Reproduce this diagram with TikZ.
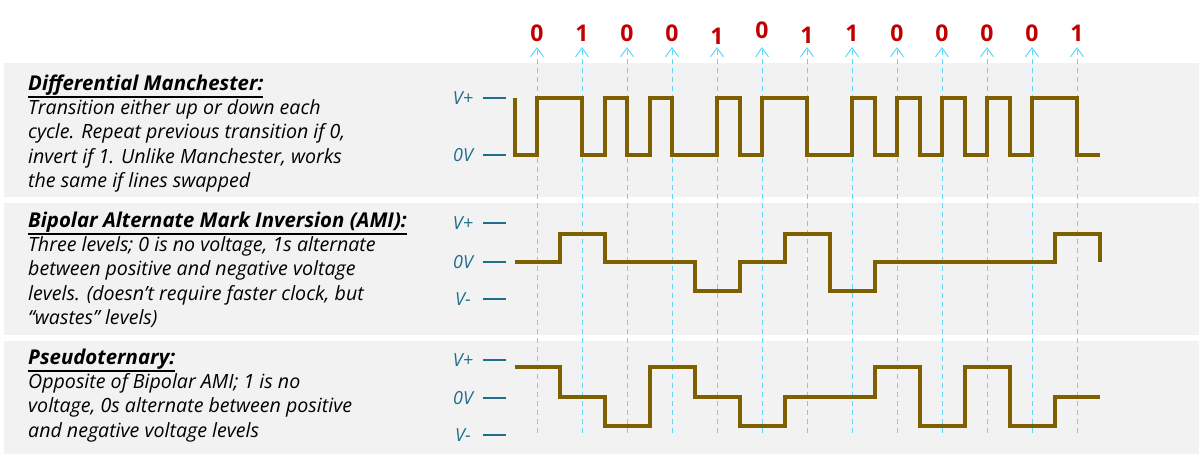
\documentclass[tikz,border=0pt]{standalone}
\usepackage{fontspec}
\setmainfont{Open Sans}
\usetikzlibrary{arrows.meta}
\definecolor{wavebrown}{RGB}{127,96,0}
\definecolor{panelgray}{RGB}{242,242,242}
\definecolor{bitred}{RGB}{192,0,0}
\definecolor{levelblue}{RGB}{31,110,140}
\definecolor{clockcyan}{RGB}{95,215,250}
\tikzstyle{panel}=[fill=panelgray,draw=none]
\tikzstyle{bit}=[text=bitred,font=\fontsize{23}{23}\selectfont\bfseries,inner sep=0pt]
\tikzstyle{clock}=[clockcyan,line width=1pt,dash pattern=on 5pt off 4pt,-{Straight Barb[length=9pt,width=13pt]}]
\tikzstyle{wave}=[wavebrown,line width=4pt,line join=miter]
\tikzstyle{level}=[text=levelblue,font=\fontsize{18}{18}\selectfont\itshape,inner sep=0pt]
\tikzstyle{levtick}=[levelblue,line width=1.2pt]
\tikzstyle{desc}=[align=left,anchor=base west,inner sep=0pt,font=\fontsize{19.6}{24.4}\selectfont\itshape]
\newcommand{\heading}[1]{\leavevmode\vtop{\hbox{\fontsize{20.4}{24.4}\selectfont\bfseries #1}\kern1.5pt\hrule height1.4pt}}

\begin{document}
\begin{tikzpicture}[x=1pt,y=-1pt]
  \useasboundingbox (0,0) rectangle (1202,459);
  \fill[panel] (4,63) rectangle (1199,197);
  \fill[panel] (4,203) rectangle (1199,335);
  \fill[panel] (4,341) rectangle (1199,454);

  % descriptions, placed by their last baseline
  \node[desc] (DM) at (28,187.6) {\heading{Differential Manchester:}\\
    Transition either up or down each\\
    cycle. Repeat previous transition if 0,\\
    invert if 1. Unlike Manchester, works\\
    the same if lines swapped};
  \node[desc] (AMI) at (28,324.6) {\heading{Bipolar Alternate Mark Inversion (AMI):}\\
    Three levels; 0 is no voltage, 1s alternate\\
    between positive and negative voltage\\
    levels. (doesn’t require faster clock, but\\
    “wastes” levels)};
  \node[desc] (PT) at (28,437.2) {\heading{Pseudoternary:}\\
    Opposite of Bipolar AMI; 1 is no\\
    voltage, 0s alternate between positive\\
    and negative voltage levels};

  % voltage levels
  \foreach \name/\text/\y in {DM-hi/V+/98, DM-lo/0V/155,
                              AMI-hi/V+/223, AMI-z/0V/262, AMI-lo/V-/299,
                              PT-hi/V+/360, PT-z/0V/398, PT-lo/V-/435}
  {
    \node[level] (L-\name) at (463,\y) {\text};
    \draw[levtick] (483,\y) -- (506,\y);
  }

  % bits and clock lines
  \foreach \i/\b/\dy in {0/0/0, 1/1/0, 2/0/0, 3/0/0, 4/1/3, 5/0/-3, 6/1/2,
                         7/1/0, 8/0/0, 9/0/0, 10/0/0, 11/0/0, 12/1/0}
  {
    \node[bit] (B-\i) at (537+45*\i,33+\dy) {\b};
    \coordinate (C-\i) at (537+45*\i,433);
    \coordinate (T-\i) at (537+45*\i,47);
    \draw[clock] (C-\i) -- (T-\i);
  }

  % waveforms, x in half bits
  \begin{scope}[shift={(537,0)},x=22.5pt]
    \draw[wave] (-1,98) |- (0,155) |- (2,98) |- (3,155) |- (4,98) |- (5,155)
      |- (6,98) |- (8,155) |- (9,98) |- (10,155) |- (12,98) |- (14,155)
      |- (15,98) |- (16,155) |- (17,98) |- (18,155) |- (19,98) |- (20,155)
      |- (21,98) |- (22,155) |- (24,98) |- (25,155);
    \draw[wave] (-1,262) -- (1,262) |- (3,234) |- (7,262) |- (9,291)
      |- (11,262) |- (13,234) |- (15,291) |- (23,262) |- (25,234) -- (25,262);
    \draw[wave] (-1,367) -- (1,367) |- (3,397) |- (5,426) |- (7,367)
      |- (9,397) |- (11,426) |- (15,397) |- (17,367) |- (19,426) |- (21,367)
      |- (23,426) |- (25,397);
  \end{scope}
\end{tikzpicture}
\end{document}
